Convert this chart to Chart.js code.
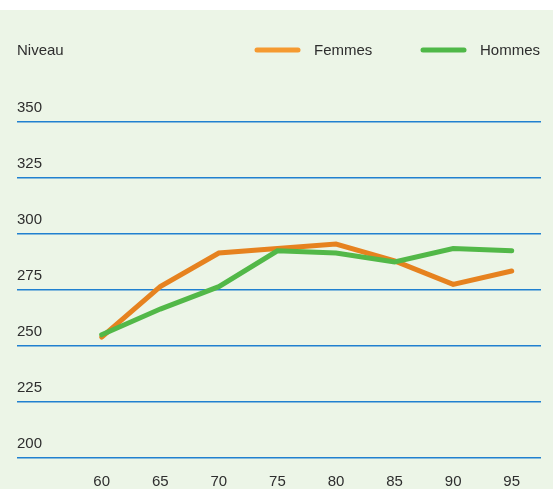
<!DOCTYPE html>
<html>
<head>
<meta charset="utf-8">
<script src="https://cdn.jsdelivr.net/npm/chart.js@4.4.1/dist/chart.umd.min.js"></script>
<style>
  html, body { margin: 0; padding: 0; background: #ffffff; }
  #wrap { width: 553px; height: 489px; position: relative; }
</style>
</head>
<body>
<div id="wrap"><canvas id="graphique"></canvas></div>
<script>
// DONNÉES
const ages = [60, 65, 70, 75, 80, 85, 90, 95];
const femmes = [254, 276.5, 291.5, 293.5, 295.5, 288, 277.5, 283.5];
const hommes = [255, 266.5, 276.5, 292.5, 291.5, 287.5, 293.5, 292.5];
const niveauTicks = [200, 225, 250, 275, 300, 325, 350];

const POLICE = "'Liberation Sans', Arial, sans-serif";
const TEXTE = "#2e2e2e";

// fond vert pâle avec bande blanche en haut
const fond = {
    id: "fond",
    beforeDraw(chart) {
        const ctx = chart.ctx;
        ctx.save();
        ctx.fillStyle = "#ffffff";
        ctx.fillRect(0, 0, chart.width, chart.height);
        ctx.fillStyle = "#ecf5e7";
        ctx.fillRect(0, 10, chart.width, chart.height - 10);
        ctx.restore();
    }
};

// titre "Niveau" et légende en traits
const entete = {
    id: "entete",
    afterDraw(chart) {
        const ctx = chart.ctx;
        ctx.save();
        ctx.font = "15px " + POLICE;
        ctx.fillStyle = TEXTE;
        ctx.textBaseline = "middle";
        ctx.textAlign = "left";
        ctx.fillText("Niveau", 17, 51);

        const items = [
            { x: 257, couleur: "#f59a31", texte: chart.data.datasets[0].label },
            { x: 423, couleur: "#4fb848", texte: chart.data.datasets[1].label }
        ];
        for (const it of items) {
            ctx.strokeStyle = it.couleur;
            ctx.lineWidth = 5;
            ctx.lineCap = "round";
            ctx.beginPath();
            ctx.moveTo(it.x, 50);
            ctx.lineTo(it.x + 41, 50);
            ctx.stroke();
            ctx.fillText(it.texte, it.x + 57, 51);
        }
        ctx.restore();
    }
};

const graphique = new Chart(document.getElementById("graphique"), {
    type: "line",
    data: {
        datasets: [
            {
                label: "Femmes",
                data: ages.map((a, i) => ({ x: a, y: femmes[i] })),
                borderColor: "#e6821f",
                borderWidth: 5,
                order: 2
            },
            {
                label: "Hommes",
                data: ages.map((a, i) => ({ x: a, y: hommes[i] })),
                borderColor: "#52b848",
                borderWidth: 5,
                order: 1
            }
        ]
    },
    options: {
        responsive: true,
        maintainAspectRatio: false,
        animation: false,
        layout: {
            padding: { top: 122, left: 17, right: 12, bottom: 0 }
        },
        elements: {
            point: { radius: 0 },
            line: { tension: 0, borderCapStyle: "round", fill: false }
        },
        plugins: {
            legend: { display: false },
            tooltip: { enabled: false }
        },
        scales: {
            x: {
                type: "linear",
                min: 52.77,
                max: 97.5,
                grid: { display: false },
                border: { display: false },
                afterBuildTicks: (axe) => {
                    axe.ticks = ages.map(v => ({ value: v }));
                },
                afterFit: (axe) => {
                    axe.height = 31;
                },
                ticks: {
                    color: TEXTE,
                    padding: 7,
                    autoSkip: false,
                    maxRotation: 0,
                    font: { family: POLICE, size: 15 }
                }
            },
            y: {
                min: 200,
                max: 350,
                afterBuildTicks: (axe) => {
                    axe.ticks = niveauTicks.map(v => ({ value: v }));
                },
                afterFit: (axe) => {
                    axe.paddingTop = 0;
                    axe.paddingBottom = 0;
                },
                grid: {
                    color: "#2080d0",
                    lineWidth: 1.6,
                    drawTicks: false
                },
                border: { display: false },
                ticks: {
                    mirror: true,
                    padding: 0,
                    labelOffset: -14,
                    color: TEXTE,
                    font: { family: POLICE, size: 15 }
                }
            }
        }
    },
    plugins: [fond, entete]
});
</script>
</body>
</html>
